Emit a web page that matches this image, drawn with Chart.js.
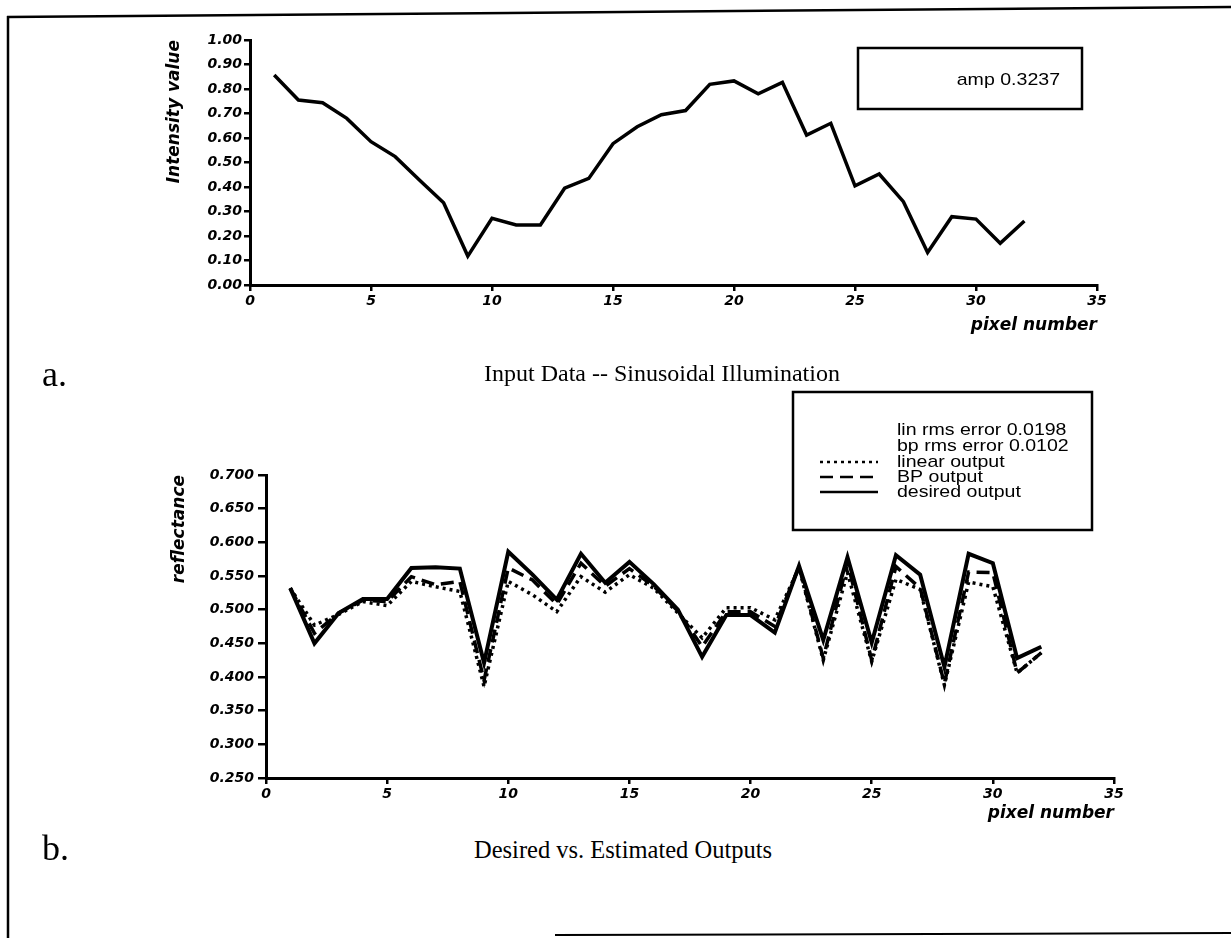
<!DOCTYPE html>
<html lang="en">
<head>
    <meta charset="UTF-8">
    <title>Input Data / Desired vs. Estimated Outputs</title>
    <script src="https://cdn.jsdelivr.net/npm/chart.js@4.4.1/dist/chart.umd.min.js"></script>
    <style>
        body { margin: 0; background: #fff; }
        #page { position: relative; width: 1231px; height: 938px; overflow: hidden; }
        canvas { position: absolute; left: 0; }
        #chartA { top: 0; }
        #chartB { top: 380px; }
        .cap { position: absolute; font-family: "Liberation Serif", "Times New Roman", serif; color: #000; white-space: nowrap; line-height: 1; }
        #frame { position: absolute; left: 0; top: 0; }
    </style>
</head>
<body>
<div id="page">
    <svg id="frame" width="1231" height="938">
        <line x1="8" y1="16" x2="8" y2="938" stroke="#000" stroke-width="2.5"/>
        <line x1="7" y1="17" x2="1231" y2="7" stroke="#000" stroke-width="2.5"/>
        <line x1="555" y1="935" x2="1231" y2="933" stroke="#000" stroke-width="2"/>
    </svg>
    <canvas id="chartA" width="1231" height="345"></canvas>
    <canvas id="chartB" width="1231" height="456"></canvas>

    <div class="cap" style="left:42px; top:356px; font-size:36px;">a.</div>
    <div class="cap" style="left:484px; top:361px; font-size:24px;">Input Data -- Sinusoidal Illumination</div>
    <div class="cap" style="left:42px; top:830px; font-size:36px;">b.</div>
    <div class="cap" style="left:474px; top:838px; font-size:24.5px;">Desired vs. Estimated Outputs</div>
</div>

<script>
    // pixel index 1..32
    const pixels = [1,2,3,4,5,6,7,8,9,10,11,12,13,14,15,16,17,18,19,20,21,22,23,24,25,26,27,28,29,30,31,32];

    // (a) input intensity
    const intensity = [0.857, 0.755, 0.744, 0.680, 0.585, 0.524, 0.429, 0.336, 0.118, 0.272, 0.245, 0.245,
                       0.395, 0.435, 0.577, 0.646, 0.695, 0.712, 0.819, 0.833, 0.780, 0.827, 0.612, 0.660,
                       0.405, 0.453, 0.340, 0.133, 0.279, 0.269, 0.170, 0.261];
    const ampLabel = 'amp 0.3237';

    // (b) reflectance outputs
    const desiredOut = [0.532, 0.450, 0.495, 0.516, 0.516, 0.562, 0.563, 0.561, 0.421, 0.586, 0.552, 0.515,
                        0.583, 0.540, 0.571, 0.538, 0.500, 0.430, 0.492, 0.492, 0.466, 0.565, 0.455, 0.578,
                        0.451, 0.581, 0.552, 0.415, 0.583, 0.569, 0.428, 0.445];
    const bpOut      = [0.532, 0.465, 0.495, 0.514, 0.512, 0.549, 0.537, 0.542, 0.395, 0.562, 0.544, 0.508,
                        0.569, 0.535, 0.561, 0.535, 0.498, 0.445, 0.497, 0.497, 0.475, 0.564, 0.428, 0.570,
                        0.425, 0.564, 0.532, 0.390, 0.556, 0.555, 0.406, 0.436];
    const linearOut  = [0.532, 0.477, 0.493, 0.512, 0.506, 0.542, 0.534, 0.527, 0.386, 0.542, 0.522, 0.497,
                        0.549, 0.526, 0.552, 0.532, 0.495, 0.458, 0.503, 0.503, 0.485, 0.562, 0.425, 0.555,
                        0.423, 0.545, 0.530, 0.388, 0.541, 0.534, 0.406, 0.436];
    const noteLines = ['lin rms error 0.0198', 'bp rms error 0.0102'];

    const axisFont = { family: '"DejaVu Sans", sans-serif', size: 14, weight: 'bold', style: 'italic' };
    const titleFont = { family: '"DejaVu Sans", sans-serif', size: 17, weight: 'bold', style: 'italic' };
    const boxFont = '17px "Liberation Sans", Arial, sans-serif';
    const stretch = 1.15; // the scanned sans text is wide

    function pts(ys) {
        return pixels.map((p, i) => ({ x: p, y: ys[i] }));
    }

    function wideText(ctx, text, x, y, align) {
        ctx.save();
        ctx.translate(x, y);
        ctx.scale(stretch, 1);
        ctx.textAlign = align;
        ctx.fillText(text, 0, 0);
        ctx.restore();
    }

    function xScale(h) {
        return {
            type: 'linear', min: 0, max: 35,
            ticks: { stepSize: 5, color: '#000', font: axisFont, padding: 2, maxRotation: 0 },
            grid: { drawOnChartArea: false, color: '#000', lineWidth: 2.5, tickLength: 6 },
            border: { color: '#000', width: 3 },
            title: { display: true, text: 'pixel number', align: 'end', color: '#000', font: titleFont, padding: { top: 0, bottom: 4 } },
            afterFit(s) { s.height = h; }
        };
    }

    // boxed text drawn over the chart
    const ampBox = {
        id: 'ampBox',
        afterDraw(chart) {
            const ctx = chart.ctx;
            ctx.save();
            ctx.lineWidth = 2.5;
            ctx.strokeStyle = '#000';
            ctx.strokeRect(858, 48, 224, 61);
            ctx.fillStyle = '#000';
            ctx.font = boxFont;
            ctx.textBaseline = 'middle';
            wideText(ctx, ampLabel, 1060, 80, 'right');
            ctx.restore();
        }
    };

    const outLegend = {
        id: 'outLegend',
        afterDraw(chart) {
            const ctx = chart.ctx;
            ctx.save();
            ctx.lineWidth = 2.5;
            ctx.strokeStyle = '#000';
            ctx.strokeRect(793, 12, 299, 138);
            ctx.fillStyle = '#000';
            ctx.font = boxFont;
            ctx.textBaseline = 'middle';
            let y = 50;
            noteLines.forEach(t => { wideText(ctx, t, 897, y, 'left'); y += 16; });
            chart.data.datasets.forEach(ds => {
                ctx.setLineDash(ds.borderDash || []);
                ctx.lineWidth = 2.5;
                ctx.beginPath();
                ctx.moveTo(820, y);
                ctx.lineTo(878, y);
                ctx.stroke();
                ctx.setLineDash([]);
                wideText(ctx, ds.label, 897, y, 'left');
                y += 15;
            });
            ctx.restore();
        }
    };

    new Chart(document.getElementById('chartA'), {
        type: 'line',
        data: {
            datasets: [{
                label: 'intensity',
                data: pts(intensity),
                borderColor: '#000', borderWidth: 3.5, pointRadius: 0, tension: 0
            }]
        },
        options: {
            responsive: false, animation: false,
            layout: { padding: { left: 155, right: 134, top: 40, bottom: 5 } },
            plugins: { legend: { display: false }, tooltip: { enabled: false } },
            scales: {
                x: xScale(55),
                y: {
                    min: 0, max: 1,
                    ticks: { stepSize: 0.1, color: '#000', font: axisFont, padding: 2, callback: v => v.toFixed(2) },
                    grid: { drawOnChartArea: false, color: '#000', lineWidth: 2.5, tickLength: 6 },
                    border: { color: '#000', width: 3 },
                    title: { display: true, text: 'Intensity value', align: 'end', color: '#000', font: titleFont, padding: { top: 9, bottom: 0 } },
                    afterFit(s) { s.width = 95; }
                }
            }
        },
        plugins: [ampBox]
    });

    new Chart(document.getElementById('chartB'), {
        type: 'line',
        data: {
            datasets: [
                { label: 'linear output', data: pts(linearOut), borderColor: '#000', borderWidth: 3.5, borderDash: [3, 4], pointRadius: 0, tension: 0 },
                { label: 'BP output', data: pts(bpOut), borderColor: '#000', borderWidth: 3.5, borderDash: [13, 7], pointRadius: 0, tension: 0 },
                { label: 'desired output', data: pts(desiredOut), borderColor: '#000', borderWidth: 4, pointRadius: 0, tension: 0 }
            ]
        },
        options: {
            responsive: false, animation: false,
            layout: { padding: { left: 166, right: 117, top: 95, bottom: 8 } },
            plugins: { legend: { display: false }, tooltip: { enabled: false } },
            scales: {
                x: xScale(50),
                y: {
                    min: 0.25, max: 0.7,
                    ticks: { stepSize: 0.05, color: '#000', font: axisFont, padding: 4, callback: v => v.toFixed(3) },
                    grid: { drawOnChartArea: false, color: '#000', lineWidth: 2.5, tickLength: 8 },
                    border: { color: '#000', width: 3 },
                    title: { display: true, text: 'reflectance', align: 'end', color: '#000', font: titleFont, padding: { top: 3, bottom: 0 } },
                    afterFit(s) { s.width = 100; }
                }
            }
        },
        plugins: [outLegend]
    });
</script>
</body>
</html>
